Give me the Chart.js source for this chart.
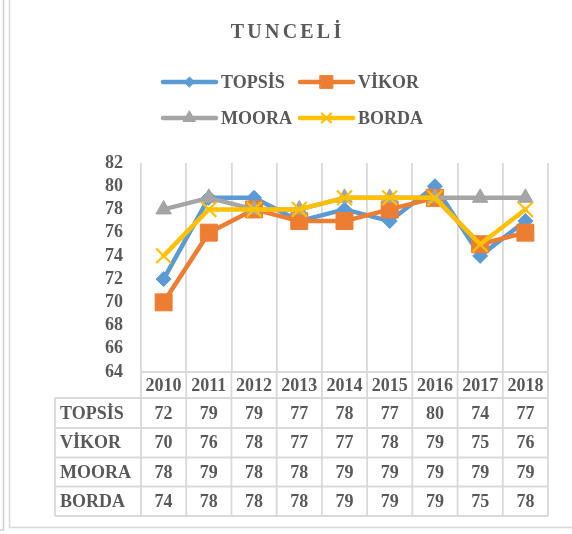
<!DOCTYPE html>
<html>
<head>
<meta charset="utf-8">
<script src="https://cdn.jsdelivr.net/npm/chart.js@4.4.1/dist/chart.umd.min.js"></script>
<style>
  html, body { margin: 0; padding: 0; background: #ffffff; }
  canvas { display: block; }
</style>
</head>
<body>
<canvas id="c" width="572" height="534"></canvas>
<script>
// Yearly scores for Tunceli by ranking method
const years = ['2010', '2011', '2012', '2013', '2014', '2015', '2016', '2017', '2018'];
const topsis = [72, 79, 79, 77, 78, 77, 80, 74, 77];
const vikor  = [70, 76, 78, 77, 77, 78, 79, 75, 76];
const moora  = [78, 79, 78, 78, 79, 79, 79, 79, 79];
const borda  = [74, 78, 78, 78, 79, 79, 79, 75, 78];
const seriesNames = ['TOPSİS', 'VİKOR', 'MOORA', 'BORDA'];
const yMin = 64, yMax = 82, yStep = 2;
const chartTitle = 'TUNCELİ';

const FONT = '"Liberation Serif", "Times New Roman", serif';
const TEXT = '#595959';
const RULE = '#d9d9d9';

const styles = [
  { color: '#5B9BD5', point: 'rectRot', r: 7.5, lr: 5 },
  { color: '#ED7D31', point: 'rect', r: 12, lr: 9 },
  { color: '#A5A5A5', point: 'triangle', r: 9, lr: 7 },
  { color: '#FFC000', point: 'crossRot', r: 10.5, lr: 6.5 }
];

function drawMarker(ctx, st, radius, x, y) {
  ctx.save();
  ctx.fillStyle = st.color;
  ctx.strokeStyle = st.color;
  const bw = st.point === 'crossRot' ? 2.2 : 1;
  ctx.lineWidth = bw;
  if (window.Chart && Chart.helpers && Chart.helpers.drawPoint) {
    Chart.helpers.drawPoint(ctx, { pointStyle: st.point, radius: radius, rotation: 0, borderWidth: bw }, x, y);
  }
  ctx.restore();
}

// Outer frame of the chart panel
const framePlugin = {
  id: 'frame',
  beforeDraw(chart) {
    const ctx = chart.ctx;
    ctx.save();
    ctx.fillStyle = '#ffffff';
    ctx.fillRect(0, 0, chart.width, chart.height);
    ctx.strokeStyle = '#d0d0d0';
    ctx.lineWidth = 1.5;
    ctx.beginPath();
    ctx.moveTo(3.5, 0); ctx.lineTo(3.5, 530); ctx.lineTo(0, 530);
    ctx.stroke();
    ctx.strokeStyle = RULE;
    ctx.beginPath();
    ctx.moveTo(9.5, 0); ctx.lineTo(9.5, 527.5); ctx.lineTo(chart.width, 527.5);
    ctx.stroke();
    ctx.restore();
  }
};

// Title with spaced capitals and the two-row legend
const headerPlugin = {
  id: 'header',
  afterDraw(chart) {
    const ctx = chart.ctx;
    ctx.save();
    ctx.fillStyle = TEXT;
    ctx.font = 'bold 20px ' + FONT;
    ctx.textBaseline = 'middle';
    const spacing = 3.2;
    const chars = Array.from(chartTitle);
    let total = 0;
    chars.forEach((ch, i) => { total += ctx.measureText(ch).width + (i < chars.length - 1 ? spacing : 0); });
    let x = 286 - total / 2;
    ctx.textAlign = 'left';
    chars.forEach(ch => { ctx.fillText(ch, x, 33); x += ctx.measureText(ch).width + spacing; });

    const rowsY = [82, 118];
    const colsX = [163, 300];
    const lineLen = 53;
    ctx.font = 'bold 18px ' + FONT;
    chart.data.datasets.forEach((ds, i) => {
      const st = styles[i];
      const lx = colsX[i % 2], ly = rowsY[Math.floor(i / 2)];
      ctx.strokeStyle = st.color;
      ctx.lineWidth = 4.5;
      ctx.lineCap = 'round';
      ctx.beginPath();
      ctx.moveTo(lx, ly); ctx.lineTo(lx + lineLen, ly);
      ctx.stroke();
      drawMarker(ctx, st, st.lr, lx + lineLen / 2, ly);
      ctx.fillStyle = TEXT;
      ctx.textAlign = 'left';
      ctx.fillText(ds.label, lx + lineLen + 5, ly + 1);
    });
    ctx.restore();
  }
};

// Data table under the plot, aligned to the category columns
const tablePlugin = {
  id: 'dataTable',
  afterDraw(chart) {
    const ctx = chart.ctx;
    const xs = chart.scales.x;
    const area = chart.chartArea;
    const n = years.length;
    const colW = (area.right - area.left) / n;
    const headTop = area.bottom;
    const rowEdges = [398, 428, 457.5, 486.5, 516];
    const labelLeft = 55;
    ctx.save();
    ctx.strokeStyle = RULE;
    ctx.lineWidth = 1.8;
    const seg = (x1, y1, x2, y2) => { ctx.beginPath(); ctx.moveTo(x1, y1); ctx.lineTo(x2, y2); ctx.stroke(); };
    seg(area.left, headTop, area.right, headTop);
    rowEdges.forEach(y => seg(labelLeft, y, area.right, y));
    for (let i = 0; i <= n; i++) {
      const x = xs.getPixelForValue(Math.min(i, n - 1)) + (i === n ? colW / 2 : -colW / 2);
      seg(x, headTop, x, rowEdges[rowEdges.length - 1]);
    }
    seg(labelLeft, rowEdges[0], labelLeft, rowEdges[rowEdges.length - 1]);

    ctx.fillStyle = TEXT;
    ctx.font = 'bold 18px ' + FONT;
    ctx.textBaseline = 'middle';
    ctx.textAlign = 'center';
    years.forEach((yr, i) => ctx.fillText(yr, xs.getPixelForValue(i), (headTop + rowEdges[0]) / 2 + 1));
    chart.data.datasets.forEach((ds, r) => {
      const yc = (rowEdges[r] + rowEdges[r + 1]) / 2 + 1;
      ctx.textAlign = 'left';
      ctx.fillText(ds.label, labelLeft + 5, yc);
      ctx.textAlign = 'center';
      ds.data.forEach((v, i) => ctx.fillText(String(v), xs.getPixelForValue(i), yc));
    });
    ctx.restore();
  }
};

const seriesValues = [topsis, vikor, moora, borda];
const datasets = seriesValues.map((vals, i) => ({
  label: seriesNames[i],
  data: vals,
  borderColor: styles[i].color,
  backgroundColor: styles[i].color,
  borderWidth: 4.5,
  borderJoinStyle: 'round',
  borderCapStyle: 'round',
  tension: 0,
  pointStyle: styles[i].point,
  pointRadius: styles[i].r,
  pointHoverRadius: styles[i].r,
  pointBackgroundColor: styles[i].color,
  pointBorderColor: styles[i].color,
  pointBorderWidth: styles[i].point === 'crossRot' ? 2.2 : 1,
  order: seriesValues.length - i,
  clip: false
}));

new Chart(document.getElementById('c'), {
  type: 'line',
  data: { labels: years, datasets: datasets },
  options: {
    responsive: false,
    animation: false,
    devicePixelRatio: 1,
    layout: { padding: { top: 163, left: 0, right: 24, bottom: 0 } },
    plugins: { legend: { display: false }, title: { display: false }, tooltip: { enabled: false } },
    scales: {
      x: {
        offset: true,
        grid: { offset: true, color: RULE, lineWidth: 1.8, drawTicks: false },
        border: { display: false },
        ticks: { display: false },
        afterFit(s) { s.height = 534 - 372; }
      },
      y: {
        min: yMin,
        max: yMax,
        ticks: {
          stepSize: yStep,
          autoSkip: false,
          color: TEXT,
          font: { family: FONT, size: 18, weight: 'bold' },
          padding: 18
        },
        grid: { display: false, drawTicks: false },
        border: { display: false },
        afterFit(s) { s.width = 141; }
      }
    }
  },
  plugins: [framePlugin, headerPlugin, tablePlugin]
});
</script>
</body>
</html>
